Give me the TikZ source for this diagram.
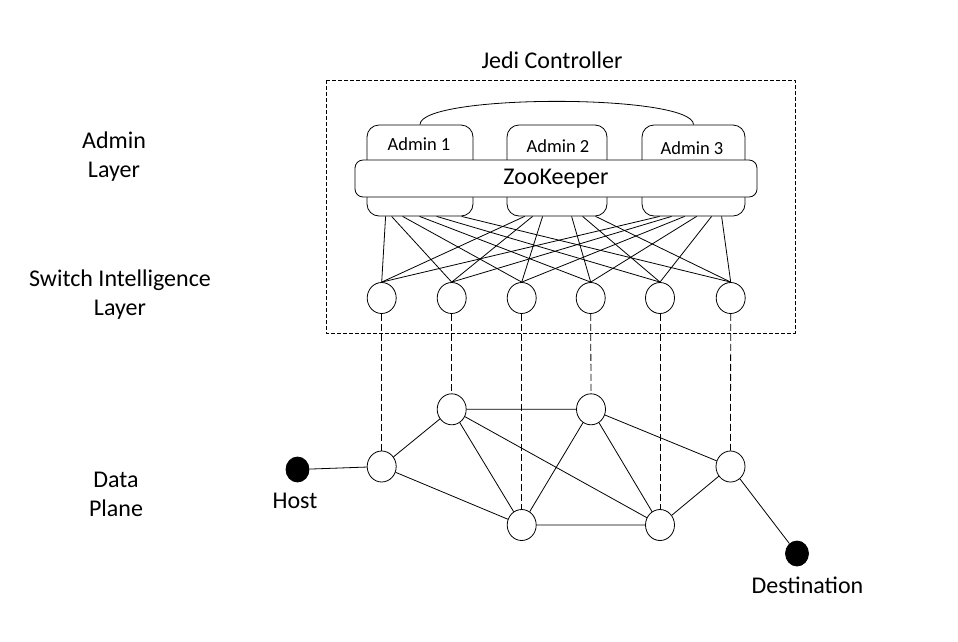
\documentclass[tikz,border=0pt]{standalone}
\usepackage{fontspec}
\setmainfont{Carlito}
\usetikzlibrary{shapes.geometric}
\begin{document}
\begin{tikzpicture}[x=1pt,y=-1pt,line join=round,line width=.8pt,
    font=\fontsize{24}{29}\selectfont,
    sw/.style={draw,ellipse,fill=white,minimum width=29pt,minimum height=31pt,inner sep=0pt},
    admin/.style={draw,rounded corners=12pt,minimum height=91pt,inner sep=0pt},
    dot/.style={draw,fill=black,ellipse,minimum width=23pt,minimum height=25pt,inner sep=0pt},
    vdash/.style={dash pattern=on 7pt off 3pt},
    lbl/.style={align=center}]
    \useasboundingbox (0,0) rectangle (958,641);
    % controller
    \draw[dash pattern=on 4pt off 2pt] (326,80) rectangle (795,333);
    \node (jedi) at (552,60) {Jedi Controller};
    \node[admin,minimum width=106pt] (a1) at (420,170.5) {};
    \node[admin,minimum width=100pt] (a2) at (557,170.5) {};
    \node[admin,minimum width=103pt] (a3) at (693.5,170.5) {};
    \draw (a1.north) .. controls +(0,-31) and +(0,-31) .. (a3.north);
    \node[draw,fill=white,rounded corners=8pt,minimum width=402pt,minimum height=37pt] (zk) at (556,178.5) {ZooKeeper};
    \begin{scope}[font=\fontsize{18.5}{22}\selectfont]
        \node (t1) at (419,144) {Admin 1};
        \node (t2) at (558,146.5) {Admin 2};
        \node (t3) at (692,148.5) {Admin 3};
    \end{scope}
    % switch intelligence
    \foreach \x [count=\i] in {381.7,451.7,521.7,590.7,660,730.7}
        \node[sw] (s\i) at (\x,298) {};
    \foreach \a/\offs in {a1/{19,25,36,53,70,95},a2/{18,26,36,65,76,89},a3/{18,30,43,55,70,80}}
        \foreach \o [count=\i] in \offs
            \draw ([xshift=\o pt]\a.south west) -- (s\i.north);
    % data plane
    \node[sw] (d1) at (381.7,466.5) {};
    \node[sw] (d2) at (451.7,409.3) {};
    \node[sw] (d3) at (521.7,525) {};
    \node[sw] (d4) at (591,409.3) {};
    \node[sw] (d5) at (660,525) {};
    \node[sw] (d6) at (730.5,466.5) {};
    \node[dot] (host) at (297.5,469.5) {};
    \node[dot] (dest) at (797,553.5) {};
    \foreach \i in {1,...,6}
        \draw[vdash] (s\i.south) -- (d\i.north);
    \draw (host)--(d1) (d1)--(d2) (d1)--(d3) (d2)--(d4) (d2)--(d3) (d2)--(d5)
        (d4)--(d3) (d4)--(d5) (d4)--(d6) (d3)--(d5) (d5)--(d6) (d6)--(dest);
    \node (hostlbl) at (295,500.5) {Host};
    \node (destlbl) at (807.5,585) {Destination};
    % layer names
    \node[lbl] (adm) at (114,156.5) {Admin\\Layer};
    \node[lbl] (swl) at (120,294.5) {Switch Intelligence\\Layer};
    \node[lbl] (dpl) at (116,494.5) {Data\\Plane};
\end{tikzpicture}
\end{document}
